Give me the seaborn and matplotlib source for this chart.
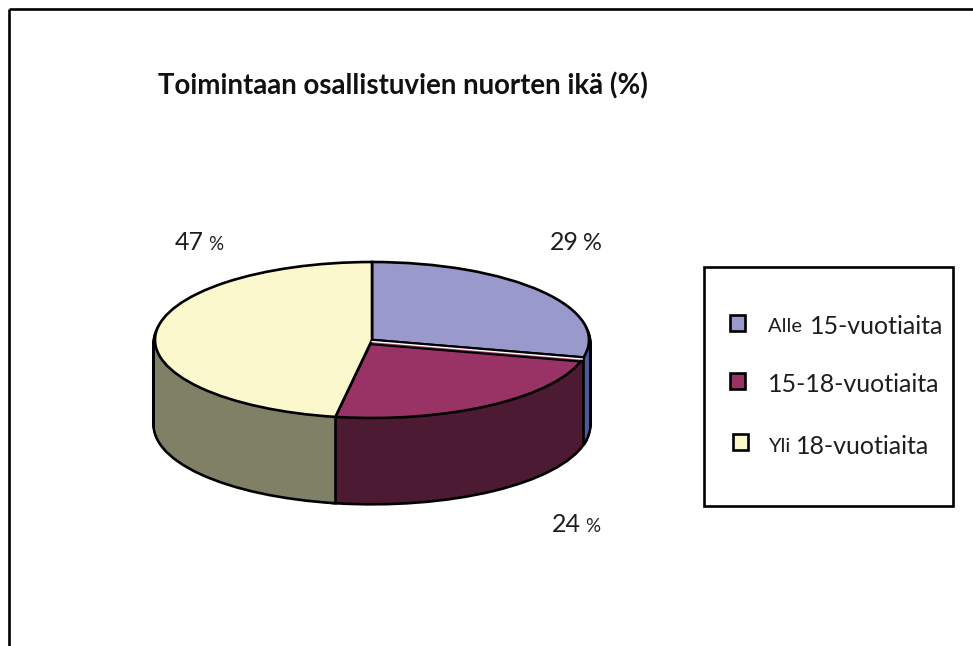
import numpy as np
import matplotlib
matplotlib.use("Agg")
import matplotlib.pyplot as plt
from matplotlib.patches import Rectangle
import seaborn as sns

sns.set_theme(style="white")
plt.rcParams['font.family'] = ['Lato', 'DejaVu Sans']

TITLE = "Toimintaan osallistuvien nuorten ikä (%)"
prefixes = ["Alle ", "", "Yli "]
suffixes = ["15-vuotiaita", "15-18-vuotiaita", "18-vuotiaita"]
values = [28.6, 24.1, 47.3]
top_colors = sns.color_palette(["#9999CC", "#993366", "#FCF8CE"])
side_colors = sns.color_palette(["#4D5A99", "#4D1A33", "#808066"])

W, H = 973, 646
fig = plt.figure(figsize=(W / 100, H / 100), dpi=100, facecolor="white")
INK = "#1e1e1e"
LW = 1.9

# page overlay in pixel coordinates
ov = fig.add_axes([0, 0, 1, 1], zorder=3)
ov.set_xlim(0, W); ov.set_ylim(H, 0); ov.axis("off"); ov.patch.set_alpha(0)

# pie axes: unit circle squashed to ellipse
cx, cy, rx, ry, depth_px = 372, 340, 217, 78, 85
pad = 10
left, right, top, bottom = cx - rx - pad, cx + rx + pad, cy - ry - pad, cy + ry + depth_px + pad
ax = fig.add_axes([left / W, 1 - bottom / H, (right - left) / W, (bottom - top) / H], zorder=1)
depth = depth_px / ry
offsets = np.linspace(depth, 0, depth_px + 1)

for off in offsets[:-3]:
    ax.pie(values, startangle=90, counterclock=False, center=(0, -off), colors=["black"] * 3,
           wedgeprops=dict(edgecolor="black", linewidth=LW * 2))
for off in offsets:
    ax.pie(values, startangle=90, counterclock=False, center=(0, -off), colors=side_colors,
           wedgeprops=dict(edgecolor="none", linewidth=0))
ax.pie(values, startangle=90, counterclock=False, center=(0, 0), colors=top_colors,
       wedgeprops=dict(edgecolor="black", linewidth=LW))

ax.set_aspect("auto")
ax.set_xlim(-1 - pad / rx, 1 + pad / rx)
ax.set_ylim(-1 - depth - pad / ry, 1 + pad / ry)

# front vertical edges and separation gap, derived from the shares
fractions = np.cumsum(values) / np.sum(values)
angles = fractions * 2 * np.pi
for a in angles[:2]:
    x, y = np.sin(a), np.cos(a)
    ax.plot([x, x], [y, y - depth], color="black", lw=LW, solid_capstyle="round")
gx, gy = np.sin(angles[0]), np.cos(angles[0])
ax.plot([0, gx * 0.995], [-0.02, gy - 0.02], color="white", lw=1.0, zorder=5)
ax.plot([0, gx], [-0.055, gy - 0.055], color="black", lw=LW * 0.8, zorder=5)

# page frame: top and left only
ov.plot([8.5, 8.5], [H, 8.5], color="black", lw=LW, solid_capstyle="butt")
ov.plot([8.5, W], [8.5, 8.5], color="black", lw=LW, solid_capstyle="butt")

ov.text(158, 86, TITLE, fontsize=19.9, fontweight="bold", color="#111111", ha="left", va="center")

# percentage labels with the small % sign
def pct(x, y, value, size):
    t = ov.text(x, y, f"{value:.0f}", fontsize=18, color=INK, ha="left", va="center")
    fig.canvas.draw()
    bb = t.get_window_extent()
    ov.text(bb.x1 + 4, y + 1, "%", fontsize=size, color=INK, ha="left", va="center")

pct(550, 243, values[0], 17)
pct(552, 525, values[1], 13.5)
pct(175, 243, values[2], 13.5)

# legend box
ov.add_patch(Rectangle((704, 267), 249, 239, facecolor="white", edgecolor="black", lw=LW))
marker_xy = [(730, 315), (730, 373), (733, 434)]
text_y = [326, 384, 446]
label_x = [810, 768, 796]
for (mx, my), ty, lx, pre, suf, col in zip(marker_xy, text_y, label_x, prefixes, suffixes, top_colors):
    ov.add_patch(Rectangle((mx, my), 15, 16, facecolor=col, edgecolor="black", lw=LW))
    if pre:
        ov.text(768, ty + 1, pre, fontsize=14.5, color=INK, ha="left", va="center")
    ov.text(lx, ty, suf, fontsize=18, color=INK, ha="left", va="center")

fig.savefig("out.png", dpi=100)
